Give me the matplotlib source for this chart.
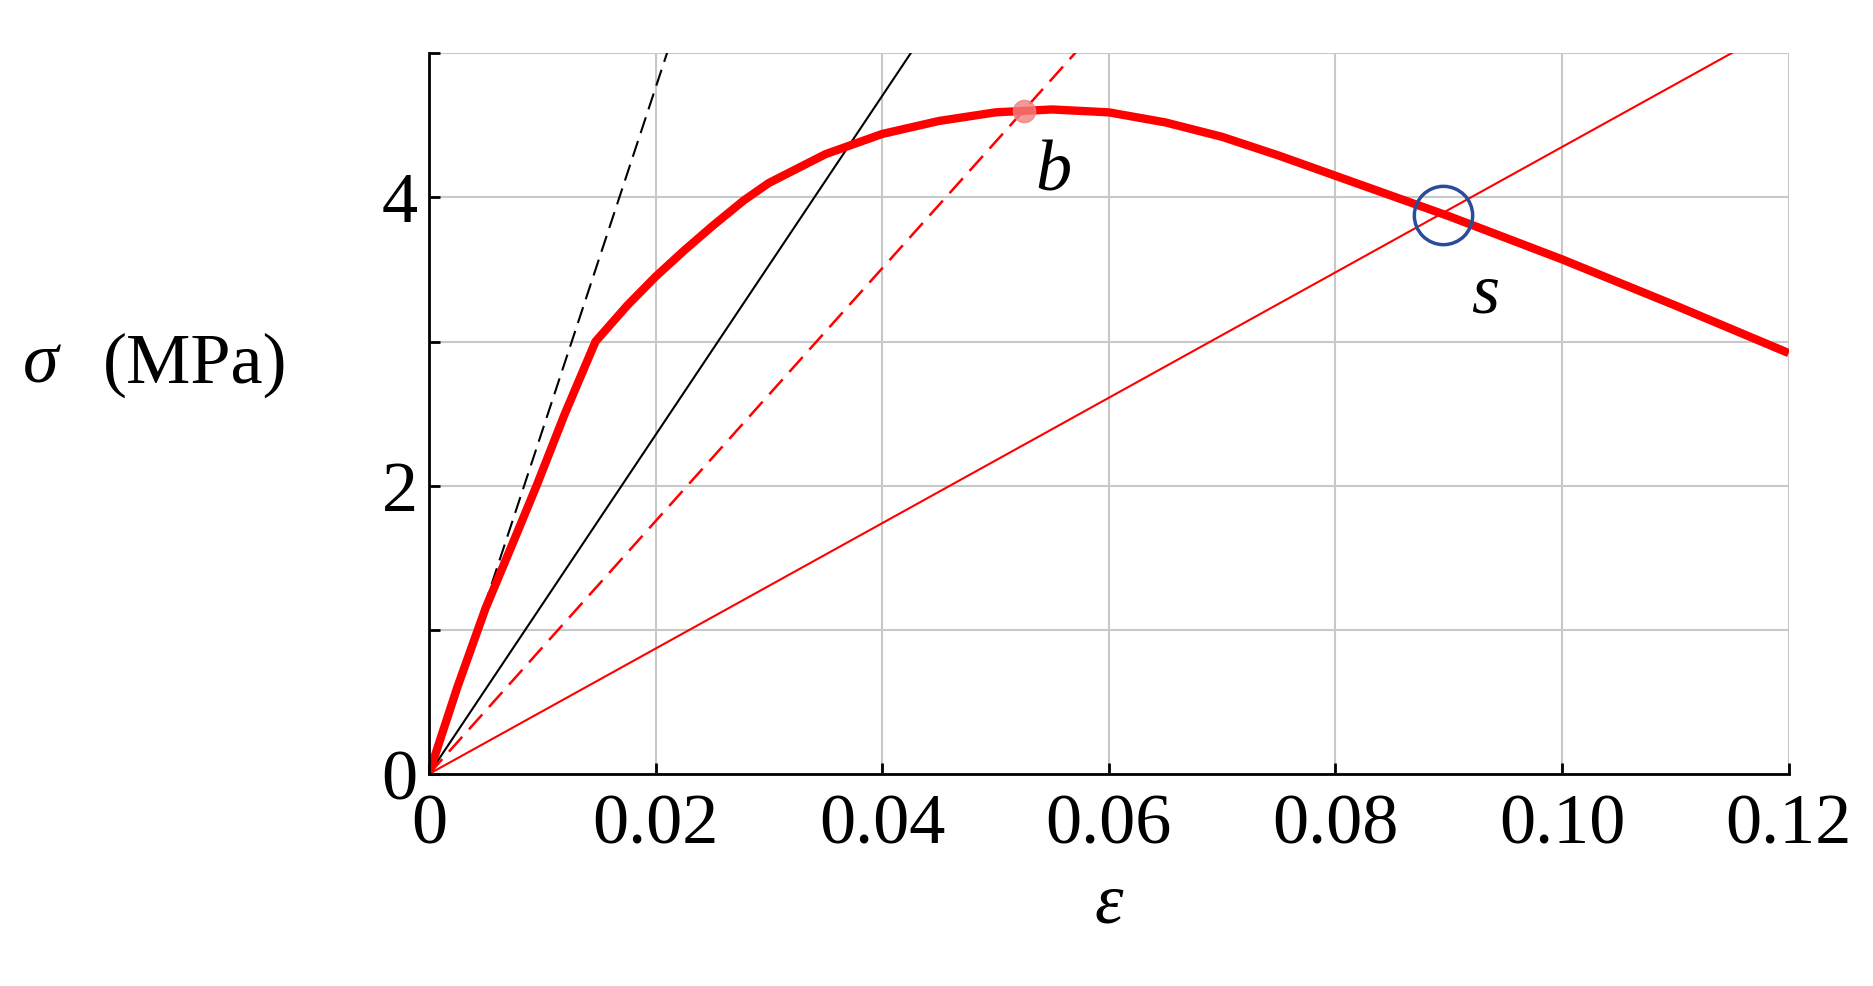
import matplotlib
matplotlib.use("Agg")
import matplotlib.pyplot as plt
import numpy as np

strain = [0, 0.0025, 0.005, 0.0075, 0.0095, 0.012, 0.0147, 0.0175, 0.02, 0.0225, 0.025, 0.0278, 0.03, 0.035,
          0.04, 0.045, 0.05, 0.055, 0.06, 0.065, 0.07, 0.075, 0.08, 0.085, 0.09, 0.095, 0.10, 0.11, 0.12]
stress = [0, 0.6, 1.15, 1.62, 2.0, 2.5, 3.0, 3.25, 3.45, 3.63, 3.8, 3.98, 4.1, 4.3,
          4.44, 4.53, 4.59, 4.61, 4.59, 4.52, 4.42, 4.29, 4.15, 4.01, 3.87, 3.72, 3.57, 3.25, 2.92]
slopes = {"k--": 238.0, "k-": 117.6, "r--": 87.7, "r-": 43.5}
b_pt = (0.0525, 4.6)
s_pt = (0.0895, 3.88)

plt.rcParams['font.family'] = ['Liberation Serif', 'DejaVu Serif']
fig = plt.figure(figsize=(18.73, 9.86), dpi=100)
ax = fig.add_axes([0.229, 0.215, 0.726, 0.731])
ax.set_xlim(0, 0.12)
ax.set_ylim(0, 5)

xs = np.array([0, 0.12])
ax.plot(xs, slopes["k--"] * xs, color='black', lw=1.5, ls=(0, (8, 4)))
ax.plot(xs, slopes["k-"] * xs, color='black', lw=1.5)
ax.plot(xs, slopes["r--"] * xs, color='red', lw=1.8, ls=(0, (8, 4)))
ax.plot(xs, slopes["r-"] * xs, color='red', lw=1.5)
ax.plot(strain, stress, color='red', lw=6, solid_capstyle='butt', solid_joinstyle='round')
ax.plot([b_pt[0]], [b_pt[1]], 'o', color='#f08080', ms=16, alpha=0.8)
ax.plot([s_pt[0]], [s_pt[1]], 'o', mfc='none', mec='#2b4c9a', mew=2.5, ms=42)
ax.text(0.0535, 4.05, 'b', style='italic', fontsize=52)
ax.text(0.092, 3.2, 's', style='italic', fontsize=52)

ax.set_xticks([0, 0.02, 0.04, 0.06, 0.08, 0.10, 0.12])
ax.set_xticklabels(['0', '0.02', '0.04', '0.06', '0.08', '0.10', '0.12'])
ax.set_yticks([0, 1, 2, 3, 4, 5])
ax.set_yticklabels(['0', '', '2', '', '4', ''])
ax.tick_params(labelsize=52, length=8, width=2, direction='in')
ax.tick_params(axis='x', pad=14)
ax.tick_params(axis='y', pad=8)
ax.grid(True, color='#c8c8c8', lw=1.5)
for sp in ['top', 'right']:
    ax.spines[sp].set_visible(False)
for sp in ['left', 'bottom']:
    ax.spines[sp].set_linewidth(2)
ax.set_xlabel('ε', style='italic', fontsize=52, labelpad=10)
fig.text(0.012, 0.63, 'σ', style='italic', fontsize=52, va='center')
fig.text(0.055, 0.63, '(MPa)', fontsize=52, va='center')
fig.savefig('out.png', dpi=100)
